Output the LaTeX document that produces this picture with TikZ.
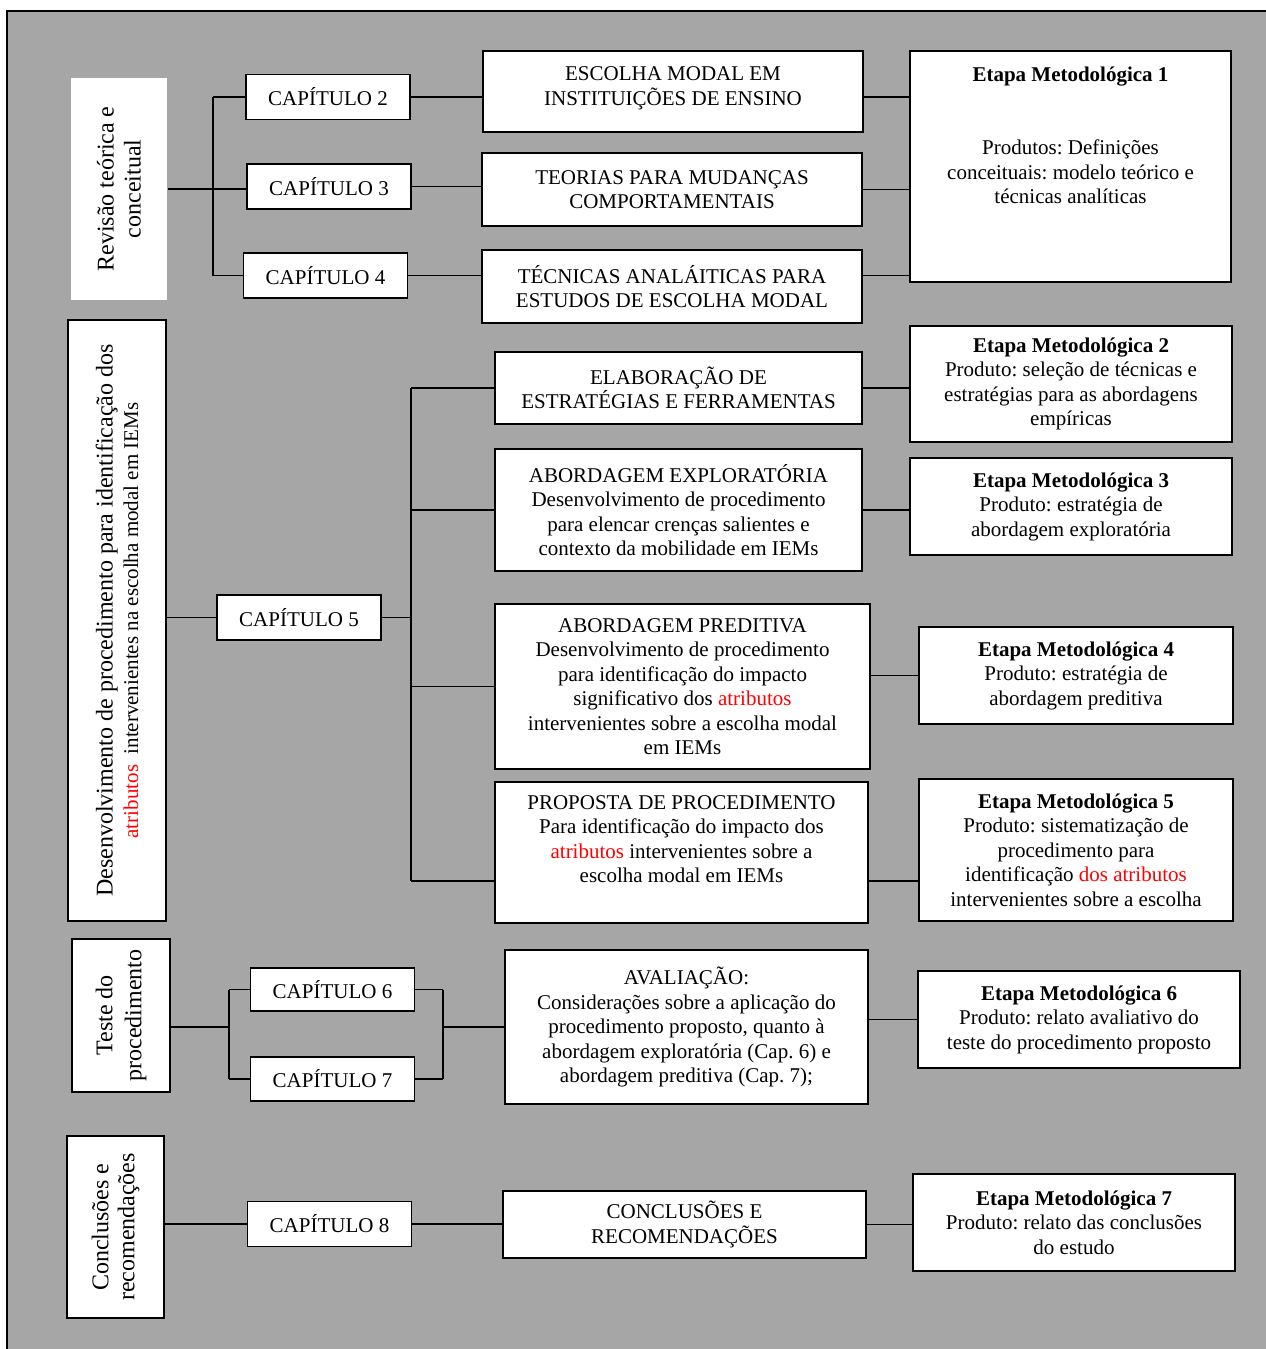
\documentclass[tikz,border=0pt]{standalone}
\usepackage{fontspec}
\setmainfont{Liberation Serif}
\frenchspacing
\definecolor{fundo}{RGB}{166,166,166}

\begin{document}
\begin{tikzpicture}[x=1pt, y=-1pt,
    every node/.style={font=\fontsize{21}{24.5}\selectfont},
    caixa/.style={draw, line width=1.6pt, fill=white, align=center, inner sep=2pt},
    lado/.style={caixa, rotate=90, font=\fontsize{24}{27}\selectfont},
    capitulo/.style={caixa, minimum width=164, minimum height=45},
    liga/.style={line width=1.3pt}]
    \useasboundingbox (0,0) rectangle (1266,1349);
    \fill[white] (0,0) rectangle (1266,1349);
    \draw[fill=fundo, line width=2.5pt] (7,11) rectangle (1290,1370);

    \node[lado, draw=none, minimum width=222, minimum height=96] (L1) at (119,189) {Revisão teórica e\\conceitual};
    \node[lado, minimum width=601, minimum height=98, font=\fontsize{24}{25.5}\selectfont] (L2) at (117,620.5) {Desenvolvimento de procedimento para identificação dos\\\fontsize{21}{25}\selectfont\textcolor{red}{atributos}\ \ intervenientes na escolha modal em IEMs};
    \node[lado, minimum width=153, minimum height=98, font=\fontsize{24}{29}\selectfont] (L3) at (121,1015.5) {Teste do\\procedimento};
    \node[lado, minimum width=182, minimum height=97, font=\fontsize{24}{26}\selectfont] (L4) at (115.5,1227) {Conclusões e\\recomendações};

    \node[capitulo] (C2) at (328,97) {CAPÍTULO 2};
    \node[capitulo] (C3) at (329,186.5) {CAPÍTULO 3};
    \node[capitulo] (C4) at (325.5,275.5) {CAPÍTULO 4};
    \node[capitulo] (C5) at (299,617.5) {CAPÍTULO 5};
    \node[capitulo, minimum height=43] (C6) at (332.5,989.5) {CAPÍTULO 6};
    \node[capitulo, minimum height=44] (C7) at (332.5,1079) {CAPÍTULO 7};
    \node[capitulo] (C8) at (329.5,1224) {CAPÍTULO 8};

    \node[caixa, minimum width=380, minimum height=81] (M1) at (673,91.5) {ESCOLHA MODAL EM\\INSTITUIÇÕES DE ENSINO\\[-14pt]\mbox{}};
    \node[caixa, minimum width=380, minimum height=73] (M2) at (672,189.5) {TEORIAS PARA MUDANÇAS\\COMPORTAMENTAIS};
    \node[caixa, minimum width=380, minimum height=73] (M3) at (672,286.5) {TÉCNICAS ANALÁITICAS PARA\\ESTUDOS DE ESCOLHA MODAL};
    \node[caixa, minimum width=367, minimum height=72] (M4) at (678.5,388) {ELABORAÇÃO DE\\ESTRATÉGIAS E FERRAMENTAS};
    \node[caixa, minimum width=367, minimum height=122] (M5) at (678.5,510) {ABORDAGEM EXPLORATÓRIA\\Desenvolvimento de procedimento\\para elencar crenças salientes e\\contexto da mobilidade em IEMs};
    \node[caixa, minimum width=375, minimum height=165] (M6) at (682.5,686.5) {ABORDAGEM PREDITIVA\\Desenvolvimento de procedimento\\para identificação do impacto\\significativo dos \textcolor{red}{atributos}\\intervenientes sobre a escolha modal\\em IEMs};
    \node[caixa, minimum width=373, minimum height=141] (M7) at (681.5,852.5) {PROPOSTA DE PROCEDIMENTO\\Para identificação do impacto dos\\\textcolor{red}{atributos} intervenientes sobre a\\escolha modal em IEMs\\[2pt]\mbox{}};
    \node[caixa, minimum width=363, minimum height=154] (M8) at (686.5,1027) {AVALIAÇÃO:\\Considerações sobre a aplicação do\\procedimento proposto, quanto à\\abordagem exploratória (Cap. 6) e\\abordagem preditiva (Cap. 7);};
    \node[caixa, minimum width=363, minimum height=67] (M9) at (684.5,1224.5) {CONCLUSÕES E\\RECOMENDAÇÕES};

    \node[caixa, minimum width=321, minimum height=231] (E1) at (1070.5,166.5) {\textbf{Etapa Metodológica 1}\\[49pt]Produtos: Definições\\conceituais: modelo teórico e\\técnicas analíticas\\[38pt]\mbox{}};
    \node[caixa, minimum width=322, minimum height=116] (E2) at (1071,384) {\textbf{Etapa Metodológica 2}\\Produto: seleção de técnicas e\\estratégias para as abordagens\\empíricas};
    \node[caixa, minimum width=322, minimum height=97] (E3) at (1071,506.5) {\textbf{Etapa Metodológica 3}\\Produto: estratégia de\\abordagem exploratória};
    \node[caixa, minimum width=314, minimum height=97] (E4) at (1076,675.5) {\textbf{Etapa Metodológica 4}\\Produto: estratégia de\\abordagem preditiva};
    \node[caixa, minimum width=314, minimum height=142] (E5) at (1076,850) {\textbf{Etapa Metodológica 5}\\Produto: sistematização de\\procedimento para\\identificação \textcolor{red}{dos atributos}\\intervenientes sobre a escolha};
    \node[caixa, minimum width=322, minimum height=97] (E6) at (1079,1019.5) {\textbf{Etapa Metodológica 6}\\Produto: relato avaliativo do\\teste do procedimento proposto};
    \node[caixa, minimum width=322, minimum height=97] (E7) at (1074,1222.5) {\textbf{Etapa Metodológica 7}\\Produto: relato das conclusões\\do estudo};

    \coordinate (b1) at (213,0);
    \coordinate (b2) at (411,881);
    \coordinate (b3) at (229,1027);
    \coordinate (b4) at (443,1027);

    \draw[liga] (L1.south) -- (L1.south -| C3.west);
    \draw[liga] (C2.west -| b1) -- (C4.west -| b1);
    \draw[liga] (C2.west -| b1) -- (C2.west);
    \draw[liga] (C4.west -| b1) -- (C4.west);
    \draw[liga] (C2.east) -- (C2.east -| M1.west);
    \draw[liga] (C3.east) -- (C3.east -| M2.west);
    \draw[liga] (C4.east) -- (C4.east -| M3.west);
    \draw[liga] (M1.east |- C2.east) -- (E1.west |- C2.east);
    \draw[liga] (M2.east) -- (M2.east -| E1.west);
    \draw[liga] (M3.east |- C4.east) -- (E1.west |- C4.east);

    \draw[liga] (C5.west -| L2.south) -- (C5.west);
    \draw[liga] (C5.east) -- (C5.east -| b2);
    \draw[liga] (M4.west -| b2) -- (b2);
    \draw[liga] (M4.west -| b2) -- (M4.west);
    \draw[liga] (M5.west -| b2) -- (M5.west);
    \draw[liga] (M6.west -| b2) -- (M6.west);
    \draw[liga] (b2) -- (b2 -| M7.west);
    \draw[liga] (M4.east) -- (M4.east -| E2.west);
    \draw[liga] (M5.east) -- (M5.east -| E3.west);
    \draw[liga] (E4.west -| M6.east) -- (E4.west);
    \draw[liga] (M7.east |- b2) -- (E5.west |- b2);

    \draw[liga] (b3 -| L3.south) -- (b3);
    \draw[liga] (C6.west -| b3) -- (C7.west -| b3);
    \draw[liga] (C6.west -| b3) -- (C6.west);
    \draw[liga] (C7.west -| b3) -- (C7.west);
    \draw[liga] (C6.east) -- (C6.east -| b4);
    \draw[liga] (C7.east) -- (C7.east -| b4);
    \draw[liga] (C6.east -| b4) -- (C7.east -| b4);
    \draw[liga] (b4) -- (b4 -| M8.west);
    \draw[liga] (E6.west -| M8.east) -- (E6.west);

    \draw[liga] (C8.west -| L4.south) -- (C8.west);
    \draw[liga] (C8.east) -- (C8.east -| M9.west);
    \draw[liga] (M9.east) -- (M9.east -| E7.west);
\end{tikzpicture}
\end{document}
